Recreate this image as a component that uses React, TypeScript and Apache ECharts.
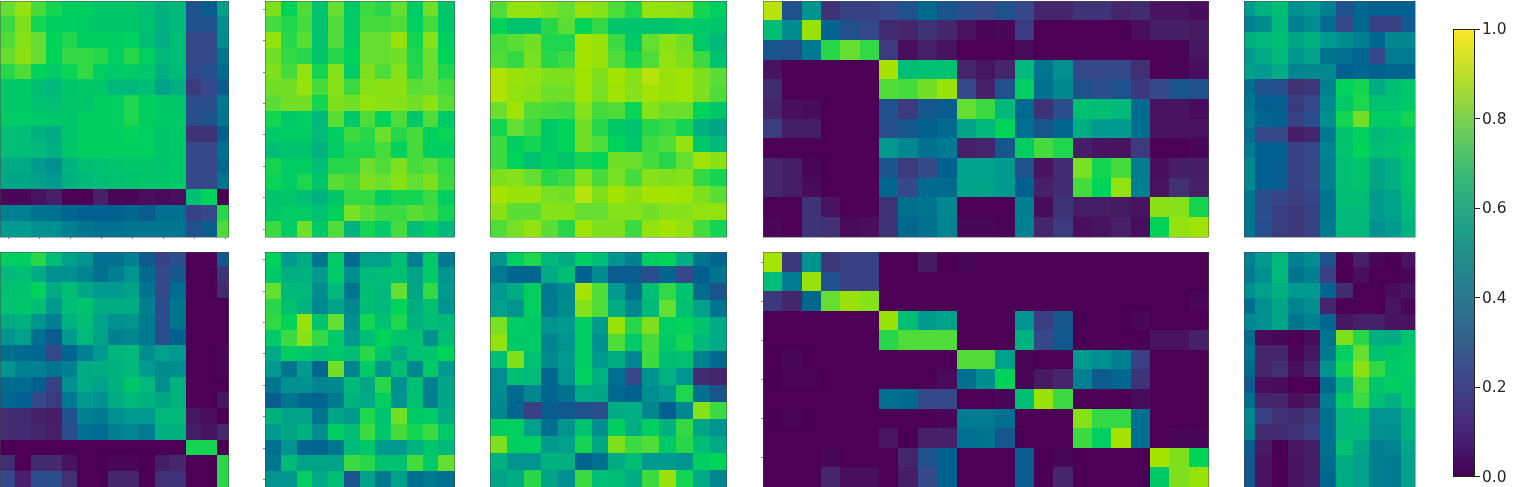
import React, { useEffect, useRef } from "react";
import * as echarts from "echarts";

const topA = [
[.80,.87,.77,.72,.68,.68,.65,.65,.65,.62,.58,.60,.24,.28,.52],
[.76,.84,.72,.68,.68,.67,.65,.65,.65,.63,.57,.60,.24,.24,.47],
[.78,.85,.80,.70,.73,.68,.68,.68,.69,.62,.57,.62,.20,.20,.46],
[.80,.86,.80,.70,.75,.75,.74,.68,.74,.68,.60,.62,.20,.20,.38],
[.74,.78,.70,.67,.71,.75,.68,.66,.67,.65,.57,.61,.21,.23,.35],
[.66,.66,.62,.60,.65,.66,.65,.60,.60,.62,.53,.57,.16,.20,.28],
[.66,.66,.63,.62,.65,.65,.68,.68,.73,.68,.66,.65,.22,.22,.40],
[.67,.67,.66,.65,.65,.68,.68,.68,.73,.68,.66,.66,.22,.24,.38],
[.62,.62,.58,.55,.65,.68,.68,.68,.70,.68,.65,.66,.14,.14,.30],
[.62,.62,.60,.57,.65,.68,.68,.68,.68,.68,.65,.66,.20,.20,.36],
[.55,.55,.50,.47,.58,.62,.63,.64,.65,.65,.64,.66,.20,.20,.33],
[.54,.54,.52,.50,.57,.60,.62,.63,.64,.65,.65,.66,.20,.20,.38],
[.02,.02,.05,.09,0,0,.09,.02,.02,.04,.03,.04,.62,.70,0],
[.42,.42,.38,.36,.32,.30,.30,.30,.33,.28,.36,.36,.18,.20,.74],
[.50,.50,.47,.47,.42,.38,.36,.36,.38,.38,.38,.38,.24,.28,.78],
];
const topB = [
[.84,.70,.78,.64,.80,.66,.76,.74,.80,.67,.82,.65],
[.77,.73,.77,.64,.78,.66,.77,.77,.78,.69,.77,.65],
[.87,.74,.79,.64,.78,.67,.80,.80,.88,.72,.85,.68],
[.82,.75,.74,.65,.74,.70,.80,.80,.82,.73,.81,.70],
[.84,.77,.87,.72,.85,.67,.84,.78,.85,.74,.81,.73],
[.82,.82,.88,.77,.85,.76,.85,.86,.86,.79,.80,.77],
[.79,.82,.82,.72,.84,.82,.87,.86,.85,.82,.86,.79],
[.72,.66,.68,.60,.79,.66,.78,.70,.78,.65,.78,.66],
[.66,.67,.67,.61,.68,.76,.74,.81,.74,.77,.69,.71],
[.62,.64,.64,.58,.67,.73,.73,.77,.69,.77,.68,.68],
[.72,.67,.68,.62,.74,.74,.81,.78,.84,.77,.79,.75],
[.71,.67,.73,.65,.79,.77,.84,.81,.85,.80,.84,.76],
[.64,.65,.62,.58,.65,.75,.75,.68,.72,.72,.76,.68],
[.65,.67,.67,.63,.69,.83,.79,.76,.76,.79,.77,.72],
[.76,.67,.82,.66,.78,.58,.72,.66,.77,.62,.68,.60],
];
const topC = [
[.78,.87,.87,.84,.80,.88,.85,.78,.73,.87,.87,.86,.72,.68],
[.70,.64,.64,.74,.79,.70,.75,.65,.64,.64,.64,.67,.66,.65],
[.77,.79,.82,.73,.73,.90,.88,.76,.66,.80,.86,.82,.66,.60],
[.78,.75,.83,.74,.76,.90,.88,.78,.72,.78,.87,.84,.76,.64],
[.91,.88,.87,.84,.84,.89,.84,.90,.85,.92,.88,.89,.84,.79],
[.91,.87,.86,.81,.82,.89,.83,.89,.85,.89,.88,.89,.84,.78],
[.81,.89,.78,.77,.76,.85,.77,.78,.71,.85,.81,.81,.70,.65],
[.72,.80,.76,.66,.70,.82,.74,.66,.64,.74,.76,.72,.58,.54],
[.76,.68,.72,.66,.70,.82,.78,.70,.65,.76,.78,.87,.65,.60],
[.76,.70,.63,.68,.65,.72,.70,.82,.81,.77,.74,.80,.89,.86],
[.84,.85,.80,.74,.76,.85,.77,.83,.77,.85,.84,.85,.75,.72],
[.90,.88,.88,.83,.82,.92,.84,.90,.86,.90,.90,.89,.84,.79],
[.86,.79,.79,.85,.85,.80,.80,.85,.85,.82,.85,.85,.87,.87],
[.78,.83,.87,.79,.74,.89,.84,.84,.76,.87,.90,.87,.77,.72],
];
const topD = [
[.92,.24,.48,.14,.18,.18,.20,.24,.34,.25,.22,.20,.24,.20,.10,.10,.14,.14,.10,.12,.05,.05,.03],
[.62,.46,.88,.32,.24,.20,.12,.10,.14,.10,.05,.01,.02,.16,0,0,0,0,0,.04,.08,.08,.07],
[.25,.24,.40,.74,.80,.75,.16,.04,.09,.05,0,0,0,.03,0,0,0,0,0,0,0,.01,.06],
[.05,0,0,0,0,0,.90,.62,.63,.63,.10,.06,.10,.60,.38,.47,.20,.20,.20,.13,0,.01,.04],
[.12,0,0,0,0,0,.78,.77,.82,.88,.20,.09,.24,.68,.36,.45,.24,.22,.24,.15,.20,.25,.24],
[.10,.04,.03,0,0,0,.24,.16,.26,.28,.80,.76,.60,.34,.14,.22,.63,.62,.60,.34,.05,.05,.03],
[.17,.08,.08,0,0,0,.23,.26,.30,.34,.53,.60,.70,.36,.26,.32,.56,.50,.50,.36,.05,.05,.05],
[0,0,0,0,0,0,.50,.44,.37,.40,.09,.10,.26,.68,.77,.73,.08,.05,.05,.16,0,0,.02],
[.10,.08,.02,0,0,0,.25,.16,.20,.30,.52,.52,.50,.24,.05,.12,.83,.72,.77,.41,.04,.08,.08],
[.10,.08,.03,0,0,0,.33,.20,.34,.34,.53,.53,.50,.30,.09,.12,.77,.70,.87,.42,.05,.13,.09],
[0,0,.14,.05,0,0,.14,.36,.38,.44,0,0,0,.42,.03,.14,.08,.08,.07,.05,.86,.85,.72],
[.02,0,.14,.13,.03,.04,.14,.33,.37,.43,.02,.02,.01,.42,.10,.16,.04,.05,.09,.04,.70,.87,.89],
];
const topE = [
[.50,.58,.62,.47,.50,.42,.24,.33,.30,.30,.30],
[.42,.46,.60,.42,.46,.35,.20,.33,.18,.18,.27],
[.58,.60,.62,.54,.57,.50,.46,.42,.33,.44,.44],
[.50,.55,.60,.49,.52,.38,.36,.33,.20,.40,.40],
[.52,.50,.55,.43,.45,.45,.30,.33,.30,.32,.32],
[.36,.24,.23,.13,.15,.42,.70,.72,.56,.62,.66],
[.38,.29,.29,.16,.20,.45,.66,.73,.63,.63,.66],
[.40,.32,.30,.18,.22,.47,.72,.82,.67,.67,.72],
[.36,.20,.20,.08,.10,.40,.64,.69,.60,.62,.64],
[.40,.30,.30,.18,.20,.43,.64,.70,.62,.63,.67],
[.44,.30,.29,.18,.20,.42,.62,.64,.54,.57,.64],
[.44,.30,.29,.18,.20,.42,.62,.64,.54,.57,.64],
[.38,.22,.19,.17,.19,.38,.62,.62,.50,.53,.62],
[.38,.22,.17,.15,.18,.38,.60,.60,.50,.53,.60],
[.38,.23,.17,.15,.18,.40,.60,.60,.47,.50,.58],
];
const botA = [
[.68,.68,.74,.62,.52,.48,.36,.36,.42,.27,.18,.22,0,0,.27],
[.60,.62,.55,.47,.47,.43,.36,.42,.48,.34,.20,.26,0,0,.14],
[.63,.64,.70,.55,.62,.54,.50,.50,.53,.38,.20,.35,0,0,.11],
[.64,.65,.62,.50,.62,.64,.56,.56,.56,.42,.22,.38,0,0,0],
[.55,.58,.48,.42,.58,.62,.53,.47,.48,.40,.22,.38,0,0,0],
[.48,.52,.36,.28,.50,.60,.53,.42,.44,.40,.22,.30,0,0,0],
[.36,.34,.33,.20,.32,.42,.50,.59,.60,.46,.52,.50,0,0,.02],
[.48,.42,.42,.38,.42,.55,.56,.58,.60,.50,.46,.46,0,0,.02],
[.35,.35,.30,.18,.47,.55,.52,.58,.65,.60,.46,.58,0,0,0],
[.33,.30,.20,.16,.40,.50,.47,.56,.60,.58,.54,.58,0,0,.06],
[.12,.12,.09,.08,.24,.42,.40,.47,.50,.50,.60,.60,.06,.04,0],
[.12,.12,.10,.09,.22,.36,.35,.42,.44,.40,.57,.58,.08,.05,.10],
[0,0,0,0,0,0,0,0,0,0,0,0,.72,.72,0],
[.12,0,.11,.11,.05,0,0,.02,.02,0,.08,.10,0,0,.74],
[.20,.09,.22,.22,.13,0,0,.10,.10,0,.13,.14,0,0,.74],
];
const botB = [
[.70,.50,.56,.38,.66,.35,.53,.52,.62,.42,.66,.40],
[.66,.57,.58,.50,.66,.46,.60,.62,.63,.53,.66,.48],
[.80,.60,.60,.46,.60,.38,.62,.60,.80,.54,.75,.50],
[.74,.63,.58,.45,.53,.44,.62,.60,.70,.56,.63,.48],
[.75,.70,.88,.64,.80,.47,.72,.63,.73,.58,.62,.60],
[.66,.76,.86,.75,.66,.50,.62,.70,.64,.63,.47,.62],
[.55,.68,.66,.62,.65,.62,.74,.65,.55,.63,.64,.70],
[.50,.38,.50,.33,.82,.43,.66,.49,.62,.44,.66,.50],
[.38,.47,.47,.43,.45,.60,.54,.74,.47,.62,.42,.54],
[.28,.38,.33,.32,.40,.58,.55,.68,.48,.63,.42,.54],
[.58,.53,.52,.38,.54,.50,.73,.64,.82,.66,.67,.56],
[.50,.54,.58,.46,.68,.62,.76,.65,.77,.72,.76,.66],
[.36,.48,.33,.32,.38,.60,.65,.50,.50,.58,.65,.60],
[.38,.60,.53,.53,.53,.76,.74,.63,.63,.77,.66,.80],
[.48,.48,.68,.55,.62,.25,.52,.40,.52,.36,.40,.36],
];
const botC = [
[.48,.68,.73,.60,.56,.68,.62,.48,.42,.68,.70,.57,.38,.32],
[.40,.32,.32,.55,.62,.30,.45,.28,.28,.22,.32,.20,.30,.38],
[.50,.55,.68,.40,.45,.90,.78,.50,.36,.62,.75,.64,.35,.25],
[.52,.48,.68,.40,.46,.85,.78,.56,.44,.60,.80,.63,.52,.38],
[.83,.67,.66,.48,.50,.68,.50,.88,.74,.84,.68,.70,.64,.55],
[.87,.66,.66,.43,.48,.68,.47,.78,.66,.77,.66,.72,.60,.55],
[.62,.84,.63,.45,.50,.68,.50,.56,.44,.76,.62,.63,.42,.34],
[.46,.62,.60,.33,.48,.69,.58,.36,.20,.48,.58,.48,.12,.10],
[.46,.34,.44,.32,.37,.55,.54,.34,.30,.46,.50,.73,.36,.25],
[.44,.33,.18,.28,.27,.24,.22,.56,.57,.44,.30,.44,.85,.76],
[.68,.68,.52,.36,.48,.64,.46,.68,.56,.68,.58,.75,.54,.48],
[.84,.68,.68,.50,.52,.72,.54,.84,.76,.78,.66,.74,.62,.55],
[.58,.48,.48,.58,.57,.32,.36,.56,.62,.50,.50,.48,.68,.70],
[.53,.56,.74,.54,.47,.76,.62,.62,.56,.76,.88,.72,.55,.44],
];
const botD = [
[.90,.15,.48,.15,.18,.18,0,0,.07,0,.02,0,0,0,0,0,0,0,0,0,0,0,0],
[.62,.40,.88,.24,.18,.18,0,0,0,0,0,0,0,0,0,0,0,0,0,0,0,0,0],
[.15,.10,.33,.80,.88,.85,0,0,0,0,0,0,0,0,0,0,0,0,0,0,0,0,.02],
[0,0,0,0,0,0,.88,.62,.50,.53,0,0,0,.48,.17,.26,0,0,0,.02,0,0,0],
[0,0,0,0,0,0,.74,.78,.78,.78,0,0,0,.58,.20,.27,0,0,0,0,.05,.05,.09],
[0,.02,0,0,0,0,0,0,0,0,.78,.78,.52,.01,0,0,.50,.47,.42,.18,0,0,0],
[0,.01,.01,0,0,0,0,0,0,.03,.36,.46,.70,.01,.07,.10,.42,.28,.33,.14,0,0,0],
[0,0,0,0,0,0,.36,.34,.20,.20,0,0,.02,.62,.88,.76,0,0,0,.03,0,0,0],
[0,.01,0,0,0,0,0,0,0,.02,.40,.40,.36,0,0,0,.85,.75,.75,.36,0,0,0],
[0,0,0,0,0,0,.06,0,.09,.09,.36,.38,.26,0,0,0,.76,.68,.90,.36,0,.02,.02],
[0,0,0,.02,0,0,0,.10,.24,.30,0,0,0,.28,0,.02,0,0,0,0,.90,.84,.70],
[0,0,0,.10,.04,.04,0,.08,.20,.30,0,0,0,.28,0,.10,0,0,0,0,.66,.84,.88],
];
const botE = [
[.42,.50,.60,.42,.46,.24,0,.09,.02,0,.05],
[.40,.47,.60,.38,.42,.18,0,.04,0,0,.02],
[.47,.52,.57,.50,.50,.32,.12,0,0,.03,.06],
[.36,.47,.54,.43,.46,.10,0,0,0,.06,.02],
[.44,.47,.54,.38,.42,.33,.06,.09,.09,.05,.05],
[.34,.03,.02,0,.03,.38,.84,.74,.57,.56,.64],
[.38,.10,.10,.01,.06,.40,.68,.80,.63,.65,.67],
[.34,.10,.13,.04,.10,.48,.72,.86,.75,.66,.68],
[.27,.04,.03,0,0,.34,.58,.78,.65,.68,.66],
[.36,.10,.10,.04,.07,.41,.66,.76,.62,.57,.66],
[.44,.18,.13,.12,.15,.36,.60,.62,.48,.48,.58],
[.43,.12,.12,.13,.17,.36,.60,.60,.47,.46,.58],
[.28,.07,0,.06,.08,.36,.63,.54,.42,.43,.54],
[.26,.05,0,.05,.08,.35,.56,.52,.42,.40,.52],
[.26,.05,0,.05,.08,.32,.56,.52,.42,.40,.52],
];

const heatColors = ["#4b0055","#45256b","#34488a","#00608f","#007a90","#009a8e","#00b97a","#00d35a","#64de30","#a5e300","#fde333"];
const barStops = ["#fde725","#b5de2b","#6ece58","#35b779","#1f9e89","#26828e","#31688e","#3e4989","#482878","#440154"];
const barTicks = [0, 0.2, 0.4, 0.6, 0.8, 1];

const panels = [
  { data: topA, left: -2.3, top: 1, width: 235, height: 235.5, edgeL: 0, edgeR: 228.6, ticksX: true, ticksY: false },
  { data: topB, left: 265.3, top: 1, width: 189, height: 236, edgeL: 265.3, edgeR: 454.3, ticksX: false, ticksY: true },
  { data: topC, left: 490.7, top: 1, width: 236, height: 236, edgeL: 490.7, edgeR: 726.7, ticksX: false, ticksY: false },
  { data: topD, left: 763.3, top: 1, width: 445, height: 236, edgeL: 763.3, edgeR: 1208.3, ticksX: false, ticksY: false },
  { data: topE, left: 1239.5, top: 1, width: 178.2, height: 236, edgeL: 1244.3, edgeR: 1415.3, ticksX: false, ticksY: false },
  { data: botA, left: -2.3, top: 250.8, width: 235, height: 238.5, edgeL: 0, edgeR: 228.6, ticksX: false, ticksY: false },
  { data: botB, left: 265.3, top: 251.8, width: 189, height: 238, edgeL: 265.3, edgeR: 454.3, ticksX: false, ticksY: true },
  { data: botC, left: 490.7, top: 249.7, width: 236, height: 240, edgeL: 490.7, edgeR: 726.7, ticksX: false, ticksY: false },
  { data: botD, left: 763.3, top: 252.3, width: 445, height: 237, edgeL: 763.3, edgeR: 1208.3, ticksX: false, ticksY: true },
  { data: botE, left: 1239.5, top: 251.5, width: 178.2, height: 237, edgeL: 1244.3, edgeR: 1415.3, ticksX: false, ticksY: false },
];

function mask(x: number, y: number, width: number, height: number) {
  return { type: "rect", x, y, z: 50, shape: { width, height }, style: { fill: "#fff" } };
}

function frame(p: (typeof panels)[number], i: number) {
  const y0 = i < 5 ? 1 : 252.3;
  const y1 = i < 5 ? 237 : 495;
  return {
    type: "rect", x: p.edgeL, y: y0, z: 55, silent: true,
    shape: { width: p.edgeR - p.edgeL, height: y1 - y0 },
    style: { fill: "none", stroke: "rgba(70,70,70,0.55)", lineWidth: 0.8 },
  };
}

export default function App() {
  const ref = useRef<HTMLDivElement>(null);
  useEffect(() => {
    const chart = echarts.init(ref.current!, undefined, { renderer: "svg" });
    const grids: any[] = [], xAxes: any[] = [], yAxes: any[] = [], series: any[] = [];
    const tick = (on: boolean) => ({
      show: on, interval: 1, alignWithLabel: true, length: 2, lineStyle: { color: "#666", width: 0.8 },
    });
    panels.forEach((p, i) => {
      grids.push({ left: p.left, top: p.top, width: p.width, height: p.height, show: false });
      const rows = p.data.length, cols = p.data[0].length;
      xAxes.push({
        gridIndex: i, type: "category", z: 60, show: p.ticksX,
        data: Array.from({ length: cols }, (_, c) => c),
        axisLine: { show: false }, axisLabel: { show: false }, splitLine: { show: false }, axisTick: tick(p.ticksX),
      });
      yAxes.push({
        gridIndex: i, type: "category", inverse: true, z: 60, show: p.ticksY,
        data: Array.from({ length: rows }, (_, r) => r),
        axisLine: { show: false }, axisLabel: { show: false }, splitLine: { show: false }, axisTick: tick(p.ticksY),
      });
      const cells: number[][] = [];
      p.data.forEach((row, r) => row.forEach((v, c) => cells.push([c, r, v])));
      series.push({
        type: "heatmap", xAxisIndex: i, yAxisIndex: i, data: cells, silent: true,
        itemStyle: { borderWidth: 0 }, emphasis: { disabled: true }, progressive: 0,
      });
    });
    const n = panels.length;
    grids.push({ left: 1453, top: 29, width: 22, height: 447.5, show: false });
    xAxes.push({ gridIndex: n, type: "category", data: ["colorbar"], show: false });
    yAxes.push({
      gridIndex: n, type: "value", position: "right", min: 0, max: 1, interval: 0.2,
      splitLine: { show: false },
      axisLine: { show: false },
      axisTick: { show: true, length: 4.5, lineStyle: { color: "#222", width: 1 } },
      axisLabel: {
        show: true, margin: 7, fontFamily: "DejaVu Sans", fontSize: 15.5, color: "#262626",
        formatter: (v: number) => v.toFixed(1),
      },
    });
    series.push({
      type: "bar", xAxisIndex: n, yAxisIndex: n, barWidth: "100%", silent: true,
      data: [barTicks[barTicks.length - 1]],
      itemStyle: {
        borderColor: "#222", borderWidth: 1,
        color: new echarts.graphic.LinearGradient(0, 0, 0, 1,
          barStops.map((color, k) => ({ offset: k / (barStops.length - 1), color }))),
      },
    });
    chart.setOption({
      animation: false,
      backgroundColor: "#fff",
      grid: grids, xAxis: xAxes, yAxis: yAxes, series,
      visualMap: {
        type: "continuous", show: false, min: 0, max: 1,
        seriesIndex: panels.map((_, i) => i),
        inRange: { color: heatColors },
      },
      graphic: [
        mask(228.6, 0, 12, 487),
        mask(1234, 0, 10.3, 487),
        mask(1415.3, 0, 10, 487),
        mask(0, 237, 1440, 15.2),
        ...panels.map(frame),
      ],
    });
    return () => chart.dispose();
  }, []);
  return (
    <>
      <style>{"#root svg path{shape-rendering:crispEdges}"}</style>
      <div ref={ref} style={{ position: "fixed", left: 0, top: 0, width: 1522, height: 487, filter: "blur(0.45px)" }} />
    </>
  );
}
